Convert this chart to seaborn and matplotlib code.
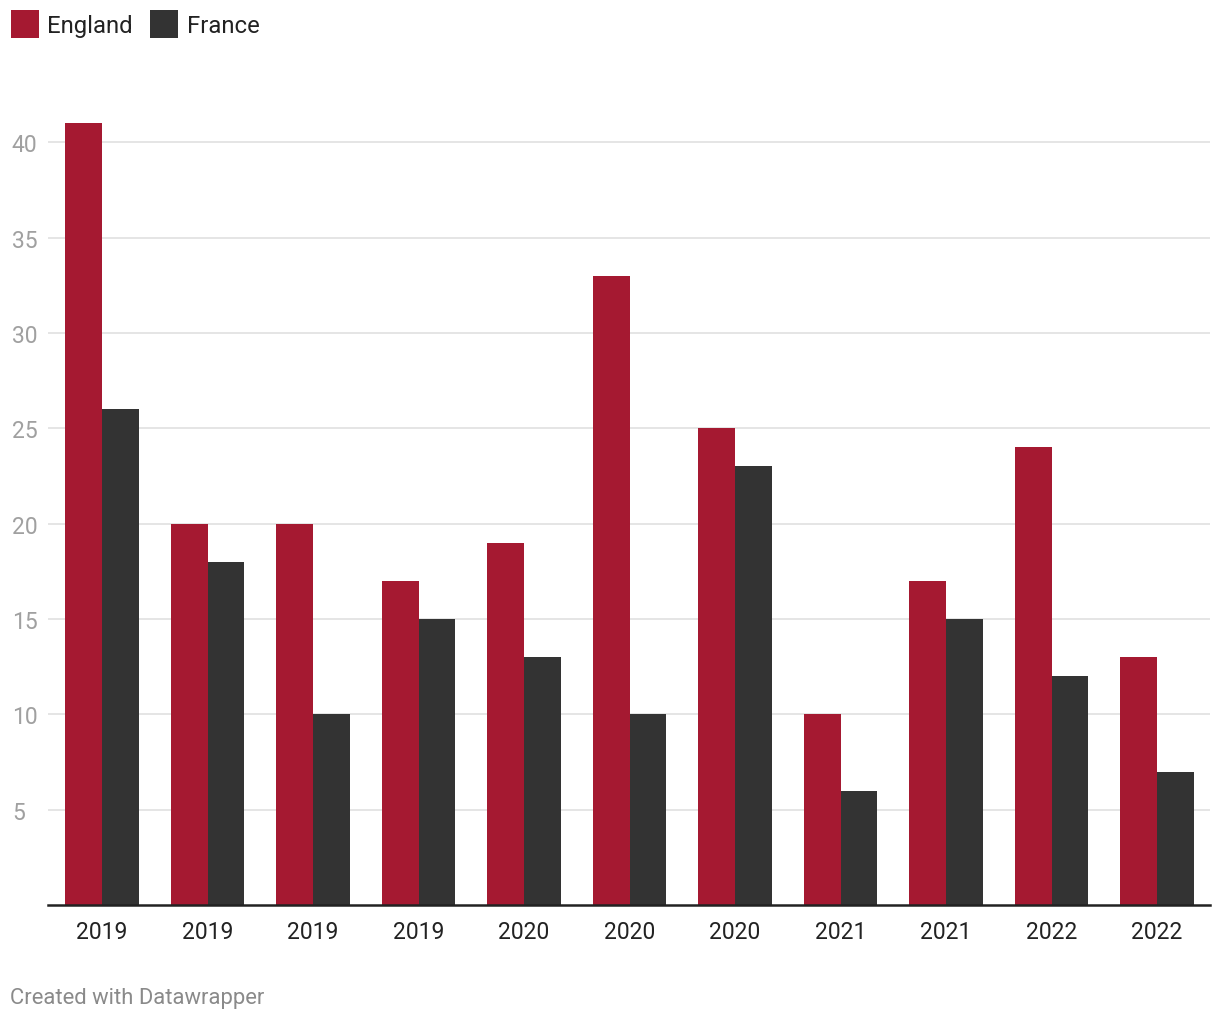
import matplotlib
matplotlib.use("Agg")
import matplotlib.pyplot as plt
import seaborn as sns
import pandas as pd
from matplotlib.patches import Patch

years = ["2019", "2019", "2019", "2019", "2020", "2020", "2020", "2021", "2021", "2022", "2022"]
england = [41, 20, 20, 17, 19, 33, 25, 10, 17, 24, 13]
france = [26, 18, 10, 15, 13, 10, 23, 6, 15, 12, 7]
series = ["England", "France"]
colors = {"England": "#a51931", "France": "#333333"}
yticks = [5, 10, 15, 20, 25, 30, 35, 40]

idx = list(range(len(years)))
df = pd.DataFrame({
    "idx": idx * 2,
    "value": england + france,
    "series": ["England"] * len(idx) + ["France"] * len(idx),
})

sns.set_theme(style="white")
plt.rcParams["font.family"] = ["Roboto", "DejaVu Sans"]

fig = plt.figure(figsize=(12.2, 10.2), dpi=100)
ax = fig.add_axes([48 / 1220, 1 - 906 / 1020, (1210 - 48) / 1220, (906 - 86) / 1020])

sns.barplot(data=df, x="idx", y="value", hue="series", palette=colors,
            hue_order=series, width=0.7, gap=0, saturation=1, ax=ax,
            legend=False, zorder=3)
for p in ax.patches:
    p.set_linewidth(0)

ax.set_xlim(-0.512, 10.502)
ax.set_ylim(0, 43)
ax.set_yticks(yticks)
ax.set_yticklabels([str(t) for t in yticks])
ax.yaxis.grid(True, color="#e3e3e3", linewidth=1.3, zorder=0)
ax.set_axisbelow(True)
ax.set_xticks(idx)
ax.set_xticklabels(years)
ax.tick_params(axis="x", length=0, pad=10.5, labelsize=16.5, labelcolor="#222222")
ax.tick_params(axis="y", length=0, labelsize=16.5, labelcolor="#a0a0a0")
for lab in ax.get_yticklabels():
    lab.set_horizontalalignment("left")
ax.yaxis.set_tick_params(pad=26)
ax.set_xlabel("")
ax.set_ylabel("")
for s in ["top", "right", "left"]:
    ax.spines[s].set_visible(False)
ax.spines["bottom"].set_color("#222222")
ax.spines["bottom"].set_linewidth(1.8)
ax.spines["bottom"].set_zorder(5)

handles = [Patch(facecolor=colors[s], edgecolor="none", label=s) for s in series]
fig.legend(handles=handles, loc="upper left", bbox_to_anchor=(4 / 1220, 1 - 4 / 1020),
           ncol=2, frameon=False, fontsize=17.2, handlelength=1.17, handleheight=1.42,
           handletextpad=0.35, columnspacing=0.72, borderaxespad=0, borderpad=0.3,
           labelcolor="#222222")

fig.text(10 / 1220, 1 - 999 / 1020, "Created with Datawrapper", fontsize=15.8,
         color="#8a8a8a", va="center", ha="left")

fig.savefig("out.png", dpi=100)
